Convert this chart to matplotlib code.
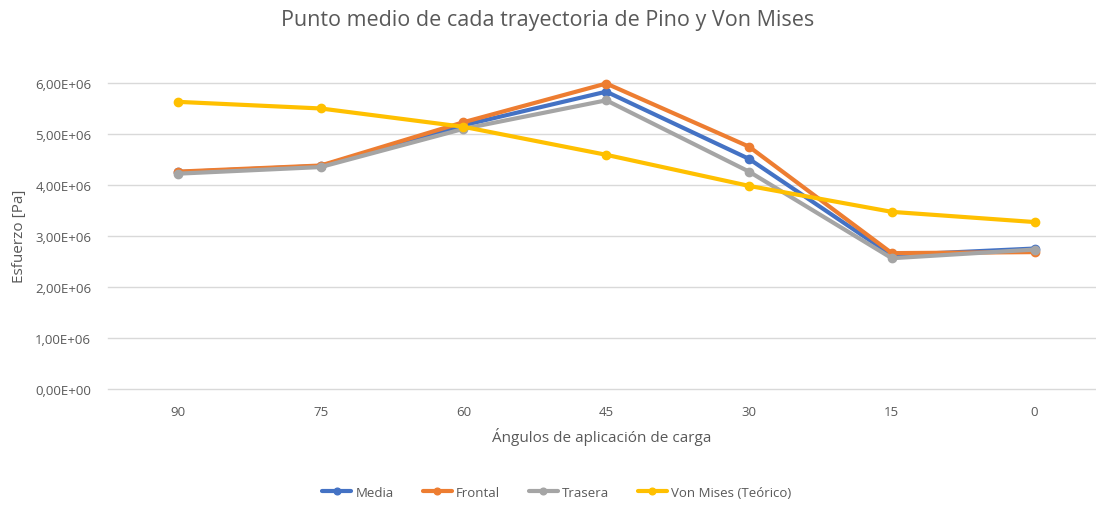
import numpy as np
import matplotlib
matplotlib.use('Agg')
import matplotlib.pyplot as plt
from matplotlib.ticker import FuncFormatter

plt.rcParams['font.family'] = ['Open Sans', 'DejaVu Sans']

angulos = ['90', '75', '60', '45', '30', '15', '0']
media = [4.25e6, 4.37e6, 5.17e6, 5.83e6, 4.51e6, 2.62e6, 2.75e6]
frontal = [4.26e6, 4.38e6, 5.23e6, 5.99e6, 4.75e6, 2.66e6, 2.68e6]
trasera = [4.22e6, 4.35e6, 5.10e6, 5.66e6, 4.26e6, 2.56e6, 2.73e6]
von_mises = [5.63e6, 5.50e6, 5.14e6, 4.59e6, 3.98e6, 3.47e6, 3.27e6]

series = [('Media', media, '#4472C4'),
          ('Frontal', frontal, '#ED7D31'),
          ('Trasera', trasera, '#A5A5A5'),
          ('Von Mises (Teórico)', von_mises, '#FFC000')]

txt = '#595959'

fig = plt.figure(figsize=(10.96, 5.06), dpi=100)
ax = fig.add_axes([0.0985, 0.230, 0.9015, 0.604])

x = np.arange(len(angulos))
for name, vals, col in series:
    ax.plot(x, vals, '-o', color=col, lw=3.0, ms=6, label=name,
            clip_on=False, solid_capstyle='round')

ax.set_xlim(-0.49, 6.43)
ax.set_ylim(0, 6e6)
ax.set_yticks(np.arange(0, 6.01e6, 1e6))
ax.yaxis.set_major_formatter(FuncFormatter(
    lambda v, p: ('%.2E' % v).replace('.', ',')))
ax.set_xticks(x)
ax.set_xticklabels(angulos)
ax.grid(axis='y', color='#D9D9D9', lw=1)
for gl in ax.get_ygridlines():
    gl.set_clip_on(False)
ax.set_axisbelow(True)
for s in ax.spines.values():
    s.set_visible(False)
ax.tick_params(length=0, colors=txt, labelsize=9.5)
ax.tick_params(axis='y', pad=12)
ax.tick_params(axis='x', pad=12)

ax.set_ylabel('Esfuerzo [Pa]', color=txt, fontsize=11, labelpad=4)
ax.yaxis.set_label_coords(-0.082, 0.5)
ax.set_xlabel('Ángulos de aplicación de carga', color=txt, fontsize=11, labelpad=6)
fig.suptitle('Punto medio de cada trayectoria de Pino y Von Mises',
             color=txt, fontsize=15.5, y=0.98)

leg = fig.legend(loc='center', bbox_to_anchor=(0.508, 0.025), ncol=4,
                 frameon=False, fontsize=9.5, handlelength=2.2,
                 handletextpad=0.3, columnspacing=2.2, markerscale=0.8)
for t in leg.get_texts():
    t.set_color(txt)

plt.savefig('out.png', dpi=100)
